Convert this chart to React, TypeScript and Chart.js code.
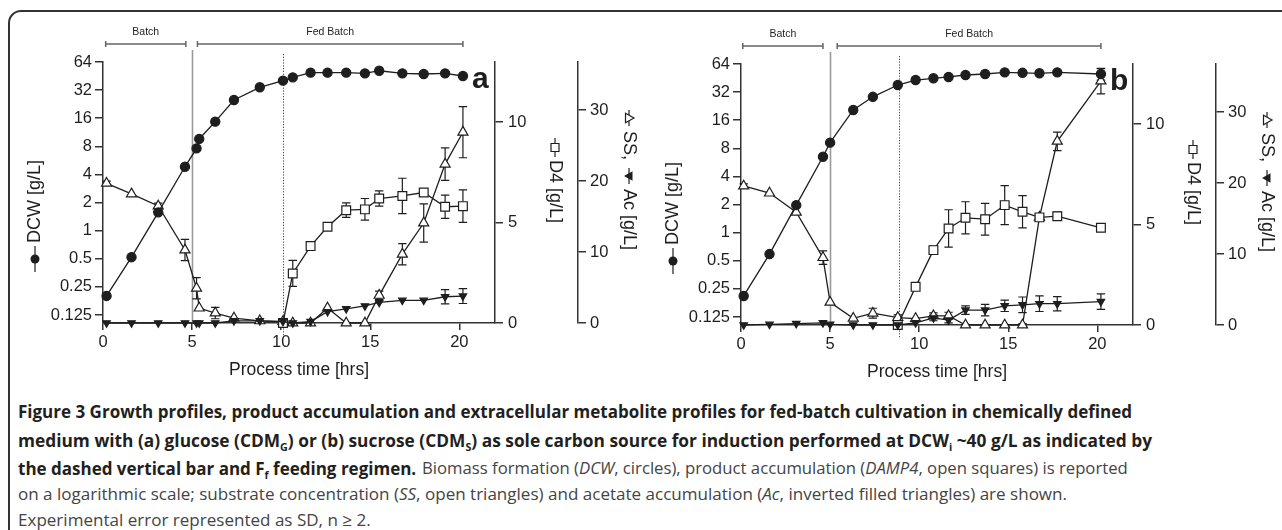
import React, { useEffect, useLayoutEffect, useRef } from 'react';
import { Chart, registerables } from 'chart.js';

Chart.register(...registerables);

// ---------------- data ----------------
const X_TICKS = [0, 5, 10, 15, 20];
const DCW_TICKS = [0.125, 0.25, 0.5, 1, 2, 4, 8, 16, 32, 64];
const D4_TICKS = [0, 5, 10];
const SS_TICKS = [0, 10, 20, 30];
const X_RANGE = [0, 22];
const DCW_RANGE = [0.1026, 64];
const D4_RANGE = [0, 13];
const SS_RANGE = [0, 36.8];
const PHASE_LABELS = ['Batch', 'Fed Batch'];
const X_TITLE = 'Process time [hrs]';

// Panel a (glucose)
const TIME_A = [0.2, 1.6, 3.1, 4.6, 5.25, 5.4, 6.3, 7.35, 8.8, 10.1, 10.65, 11.65, 12.6, 13.65, 14.7, 15.5, 16.8, 18.0, 19.2, 20.2];
const DCW_A = [0.2, 0.52, 1.57, 4.83, 7.6, 9.6, 14.7, 25.1, 34.3, 40.4, 43.8, 49.2, 49.2, 49.2, 48.4, 51.6, 48.4, 47.6, 48.4, 45.3];
const DCW_ERR_A = [0, 0, 0, 0, 0, 0, 0, 0, 0, 0, 0, 0, 0, 0, 0, 0, 0, 0, 0, 0];
const SS_A = [19.7, 18.2, 16.5, 10.3, 4.9, 2.1, 1.4, 0.7, 0.3, 0.2, 0, 0, 2.1, 0, 0, 3.9, 9.7, 14.1, 22.4, 26.9];
const SS_ERR_A = [0.3, 0, 0.4, 1.5, 1.5, 0, 0.8, 0, 0, 0, 0, 0, 0, 0, 0, 0.6, 1.5, 2.7, 2.3, 3.6];
const AC_A = [0, 0, 0, 0, 0, 0, 0, 0.3, 0.3, 0.2, 0, 0.2, 1.6, 2.0, 2.4, 2.9, 3.2, 3.2, 3.7, 3.8];
const AC_ERR_A = [0, 0, 0, 0, 0, 0, 0, 0, 0, 0, 0, 0, 0, 0, 0, 0, 0, 0, 1.0, 1.05];
const D4_TIME_A = [10.1, 10.65, 11.65, 12.6, 13.65, 14.7, 15.5, 16.8, 18.0, 19.2, 20.2];
const D4_A = [0, 2.47, 3.83, 4.79, 5.62, 5.66, 6.2, 6.33, 6.5, 5.79, 5.82];
const D4_ERR_A = [0, 0.65, 0, 0, 0.36, 0.54, 0.38, 0.88, 0.1, 0.58, 0.81];
const PHASE_SPAN_A = [[0.15, 4.65], [5.3, 20.2]];
const FEED_A = 5;
const INDUCTION_A = 10.1;

// Panel b (sucrose)
const TIME_B = [0.15, 1.6, 3.1, 4.6, 5.0, 6.3, 7.4, 8.8, 9.8, 10.8, 11.65, 12.6, 13.7, 14.8, 15.8, 16.75, 17.75, 20.2];
const DCW_B = [0.21, 0.59, 1.97, 6.5, 9.2, 20.6, 28.5, 38.1, 43.1, 45, 46.5, 48.8, 50, 52.1, 51.5, 50.9, 52.1, 50];
const DCW_ERR_B = [0, 0, 0, 0, 0, 0, 0, 0, 0, 0, 0, 0, 0, 0, 0, 0, 0, 7];
const SS_B = [19.6, 18.6, 15.9, 9.5, 3.2, 0.95, 1.66, 1.04, 0.9, 1.3, 1.3, 0, 0, 0, 0, 15.2, 25.9, 34.4];
const SS_ERR_B = [0.3, 0, 0, 0.95, 0, 0, 0.7, 0.4, 0, 0.4, 0.5, 0, 0, 0, 0.2, 0, 1.3, 1.8];
const AC_B = [0, 0.1, 0.2, 0.3, 0.1, 0, 0, 0, 0.3, 1.0, 0.7, 2.1, 2.1, 2.7, 2.85, 3.0, 3.0, 3.3];
const AC_ERR_B = [0, 0, 0, 0, 0, 0, 0, 0, 0, 0.4, 0.4, 0.6, 0.8, 0.8, 1.1, 1.1, 1.0, 1.1];
const D4_TIME_B = [8.8, 9.8, 10.8, 11.65, 12.6, 13.7, 14.8, 15.8, 16.75, 17.75, 20.2];
const D4_B = [0, 1.9, 3.73, 4.81, 5.34, 5.27, 5.97, 5.64, 5.36, 5.42, 4.84];
const D4_ERR_B = [0, 0, 0.2, 0.93, 0.8, 0.79, 0.97, 0.8, 0, 0.2, 0];
const PHASE_SPAN_B = [[0.1, 4.6], [5.4, 20.2]];
const FEED_B = 5;
const INDUCTION_B = 8.85;

// ---------------- drawing helpers ----------------
const FONT = '"Liberation Sans", Arial, Helvetica, sans-serif';
const INK = '#1e1e1e';
const AXIS = '#333';

Chart.defaults.font.family = FONT;
Chart.defaults.color = INK;

function drawMarker(ctx: CanvasRenderingContext2D, type: string, cx: number, cy: number) {
  ctx.save();
  ctx.lineWidth = 1.2;
  ctx.strokeStyle = INK;
  ctx.beginPath();
  if (type === 'circle') {
    ctx.fillStyle = INK;
    ctx.arc(cx, cy, 4.5, 0, Math.PI * 2);
    ctx.fill();
  } else if (type === 'square') {
    ctx.fillStyle = '#fff';
    ctx.rect(cx - 4, cy - 4, 8, 8);
    ctx.fill();
    ctx.stroke();
  } else if (type === 'tri') {
    ctx.fillStyle = '#fff';
    ctx.moveTo(cx, cy - 5);
    ctx.lineTo(cx + 4.8, cy + 3.5);
    ctx.lineTo(cx - 4.8, cy + 3.5);
    ctx.closePath();
    ctx.fill();
    ctx.stroke();
  } else if (type === 'itri') {
    ctx.fillStyle = INK;
    ctx.moveTo(cx, cy + 5);
    ctx.lineTo(cx + 4.8, cy - 3.5);
    ctx.lineTo(cx - 4.8, cy - 3.5);
    ctx.closePath();
    ctx.fill();
  }
  ctx.restore();
}

// items: {m: markerType, len} or {t: text}
function drawSeq(ctx: CanvasRenderingContext2D, x: number, y: number, angle: number, items: any[]) {
  ctx.save();
  ctx.translate(x, y);
  ctx.rotate(angle);
  ctx.font = `18px ${FONT}`;
  ctx.fillStyle = INK;
  ctx.strokeStyle = INK;
  ctx.lineWidth = 1.2;
  ctx.textBaseline = 'middle';
  ctx.textAlign = 'left';
  let pos = 0;
  for (const it of items) {
    if (it.m) {
      const len = it.len || 16;
      ctx.beginPath();
      ctx.moveTo(pos, 0);
      ctx.lineTo(pos + len, 0);
      ctx.stroke();
      drawMarker(ctx, it.m, pos + len / 2, 0);
      pos += len + (it.gap ?? 4);
    } else {
      ctx.fillText(it.t, pos, 0);
      pos += ctx.measureText(it.t).width + (it.gap ?? 4);
    }
  }
  ctx.restore();
}

function makeDecor(p: any) {
  return {
    id: 'decor' + p.name,
    beforeDatasetsDraw(chart: any) {
      const { ctx, chartArea: ca, scales } = chart;
      const x = scales.x;
      ctx.save();
      const xf = Math.round(x.getPixelForValue(p.feed)) + 0.5;
      ctx.strokeStyle = '#9a9a9a';
      ctx.lineWidth = 1.6;
      ctx.beginPath();
      ctx.moveTo(xf, ca.top - 12);
      ctx.lineTo(xf, ca.bottom);
      ctx.stroke();
      const xi = Math.round(x.getPixelForValue(p.induction)) + 0.5;
      ctx.strokeStyle = '#444';
      ctx.lineWidth = 1;
      ctx.setLineDash([1.2, 1.6]);
      ctx.beginPath();
      ctx.moveTo(xi, ca.top - 8);
      ctx.lineTo(xi, ca.bottom + 14);
      ctx.stroke();
      ctx.setLineDash([]);
      ctx.strokeStyle = INK;
      ctx.lineWidth = 1.2;
      chart.data.datasets.forEach((ds: any) => {
        const errs = ds.errors;
        if (!errs) return;
        const ys = scales[ds.yAxisID];
        ds.data.forEach((pt: any, j: number) => {
          const e = errs[j];
          if (!e) return;
          const px = x.getPixelForValue(pt.x);
          const yT = ys.getPixelForValue(pt.y + e);
          const yB = ys.getPixelForValue(Math.max(pt.y - e, ys.min));
          ctx.beginPath();
          ctx.moveTo(px, yT);
          ctx.lineTo(px, yB);
          ctx.moveTo(px - 4.2, yT);
          ctx.lineTo(px + 4.2, yT);
          ctx.moveTo(px - 4.2, yB);
          ctx.lineTo(px + 4.2, yB);
          ctx.stroke();
        });
      });
      ctx.restore();
    },
    afterDraw(chart: any) {
      const { ctx, chartArea: ca, scales } = chart;
      const x = scales.x;
      ctx.save();
      ctx.strokeStyle = '#666';
      ctx.lineWidth = 1.5;
      ctx.fillStyle = INK;
      ctx.font = `10.5px ${FONT}`;
      ctx.textAlign = 'center';
      ctx.textBaseline = 'middle';
      p.phases.forEach((span: number[], i: number) => {
        const x1 = x.getPixelForValue(span[0]);
        const x2 = x.getPixelForValue(span[1]);
        const y = ca.top - 18;
        ctx.beginPath();
        ctx.moveTo(x1, y);
        ctx.lineTo(x2, y);
        ctx.moveTo(x1, y - 3);
        ctx.lineTo(x1, y + 3);
        ctx.moveTo(x2, y - 3);
        ctx.lineTo(x2, y + 3);
        ctx.stroke();
        ctx.fillText(PHASE_LABELS[i], (x1 + x2) / 2, ca.top - 30);
      });
      ctx.font = `17.5px ${FONT}`;
      ctx.fillText(X_TITLE, (ca.left + ca.right) / 2, ca.bottom + 47);
      ctx.font = `bold 30px ${FONT}`;
      ctx.textAlign = 'left';
      ctx.textBaseline = 'alphabetic';
      ctx.fillText(p.name, ca.right - 23, ca.top + 26);
      ctx.restore();

      drawSeq(ctx, ca.left - 68, ca.bottom - 51, -Math.PI / 2, [
        { m: 'circle', len: 26, gap: 3 },
        { t: 'DCW [g/L]' },
      ]);
      const d4 = scales.yD4;
      drawSeq(ctx, d4.left + 60, ca.top + 76, Math.PI / 2, [
        { m: 'square', len: 19, gap: 3 },
        { t: 'D4 [g/L]' },
      ]);
      const ss = scales.ySS;
      drawSeq(ctx, ss.left + 51, ca.top + 48, Math.PI / 2, [
        { m: 'tri', len: 16, gap: 5 },
        { t: 'SS,', gap: 8 },
        { m: 'itri', len: 16, gap: 5 },
        { t: 'Ac [g/L]' },
      ]);
    },
  };
}

function buildConfig(p: any) {
  const pts = (xs: number[], ys: number[]) => xs.map((v, i) => ({ x: v, y: ys[i] }));
  const base = {
    showLine: true,
    tension: 0,
    borderColor: INK,
    borderWidth: 1.3,
    clip: false,
    pointBorderColor: INK,
    pointBorderWidth: 1.2,
    pointHoverRadius: 0,
  };
  const tickFont = { size: 16.5, family: FONT };
  const grid = (len: number) => ({
    drawOnChartArea: false,
    drawTicks: true,
    tickLength: len,
    color: AXIS,
    lineWidth: 1.5,
  });
  const border = { display: true, color: AXIS, width: 1.5 };
  const setTicks = (vals: number[]) => (s: any) => {
    s.ticks = vals.map((v) => ({ value: v }));
  };
  return {
    type: 'line',
    data: {
      datasets: [
        { ...base, label: 'DCW', yAxisID: 'yDCW', data: pts(p.time, p.dcw), errors: p.dcwErr, pointStyle: 'circle', pointRadius: 4.6, pointBackgroundColor: INK },
        { ...base, label: 'Ac', yAxisID: 'ySS', data: pts(p.time, p.ac), errors: p.acErr, pointStyle: 'triangle', pointRotation: 180, pointRadius: 4.3, pointBackgroundColor: INK },
        { ...base, label: 'D4', yAxisID: 'yD4', data: pts(p.d4Time, p.d4), errors: p.d4Err, pointStyle: 'rect', pointRadius: 6.2, pointBackgroundColor: '#fff' },
        { ...base, label: 'SS', yAxisID: 'ySS', data: pts(p.time, p.ss), errors: p.ssErr, pointStyle: 'triangle', pointRadius: 5.8, pointBackgroundColor: '#fff' },
      ],
    },
    options: {
      animation: false,
      responsive: false,
      devicePixelRatio: 1,
      events: [],
      layout: { padding: { top: 50, bottom: 29, left: 0, right: 0 } },
      plugins: { legend: { display: false }, tooltip: { enabled: false }, title: { display: false } },
      scales: {
        x: {
          type: 'linear', min: X_RANGE[0], max: X_RANGE[1], bounds: 'data',
          afterBuildTicks: setTicks(X_TICKS),
          afterFit: (s: any) => { s.height = 30; },
          grid: grid(7), border,
          ticks: { font: tickFont, color: INK, padding: 3, autoSkip: false, maxRotation: 0, callback: (v: any) => String(v) },
        },
        yDCW: {
          type: 'logarithmic', position: 'left', min: DCW_RANGE[0], max: DCW_RANGE[1], bounds: 'data',
          afterBuildTicks: setTicks(DCW_TICKS),
          afterFit: (s: any) => { s.width = 91; },
          grid: grid(8), border,
          ticks: { font: tickFont, color: INK, padding: 3, autoSkip: false, callback: (v: any) => String(v) },
        },
        yD4: {
          type: 'linear', position: 'right', weight: 0, min: D4_RANGE[0], max: D4_RANGE[1], bounds: 'data',
          afterBuildTicks: setTicks(D4_TICKS),
          afterFit: (s: any) => { s.width = 83; },
          grid: grid(8), border,
          ticks: { font: tickFont, color: INK, padding: 5, autoSkip: false, callback: (v: any) => String(v) },
        },
        ySS: {
          type: 'linear', position: 'right', weight: 1, min: SS_RANGE[0], max: SS_RANGE[1], bounds: 'data',
          afterBuildTicks: setTicks(SS_TICKS),
          afterFit: (s: any) => { s.width = 64; },
          grid: grid(8), border,
          ticks: { font: tickFont, color: INK, padding: 4, autoSkip: false, callback: (v: any) => String(v) },
        },
      },
    },
    plugins: [makeDecor(p)],
  };
}

const PANEL_A = {
  name: 'a', time: TIME_A, dcw: DCW_A, dcwErr: DCW_ERR_A, ss: SS_A, ssErr: SS_ERR_A, ac: AC_A, acErr: AC_ERR_A,
  d4Time: D4_TIME_A, d4: D4_A, d4Err: D4_ERR_A, phases: PHASE_SPAN_A, feed: FEED_A, induction: INDUCTION_A,
};
const PANEL_B = {
  name: 'b', time: TIME_B, dcw: DCW_B, dcwErr: DCW_ERR_B, ss: SS_B, ssErr: SS_ERR_B, ac: AC_B, acErr: AC_ERR_B,
  d4Time: D4_TIME_B, d4: D4_B, d4Err: D4_ERR_B, phases: PHASE_SPAN_B, feed: FEED_B, induction: INDUCTION_B,
};

function Panel({ data, left, top }: { data: any; left: number; top: number }) {
  const ref = useRef<HTMLCanvasElement>(null);
  useEffect(() => {
    const chart = new Chart(ref.current as HTMLCanvasElement, buildConfig(data) as any);
    return () => chart.destroy();
  }, [data]);
  return (
    <canvas
      ref={ref}
      width={630}
      height={370}
      style={{ position: 'absolute', left, top, width: 630, height: 370 }}
    />
  );
}

// ---------------- caption ----------------
const CAP_FONT = '"Open Sans", "Noto Sans", sans-serif';
const BOLD: React.CSSProperties = { fontFamily: CAP_FONT, fontWeight: 700, fontSize: 17.5, color: '#231f20' };
const REG: React.CSSProperties = { fontFamily: CAP_FONT, fontWeight: 400, fontSize: 17, color: '#444' };

function Sub({ children }: { children: React.ReactNode }) {
  return <span style={{ fontSize: '0.62em', position: 'relative', top: '0.32em' }}>{children}</span>;
}

const CAP_LEFT = 18;

// kind: b = bold, r = regular; right: fitted right edge (else use group scale);
// after: index of the line segment this one follows on the same row.
const CAP_SPECS = [
  { kind: 'b', base: 418, right: 1132 },
  { kind: 'b', base: 447, right: 1152 },
  { kind: 'b', base: 475 },
  { kind: 'r', base: 475, after: 2, right: 1128 },
  { kind: 'r', base: 501, right: 1067 },
  { kind: 'r', base: 527 },
];

function Caption() {
  const refs = useRef<(HTMLDivElement | null)[]>([]);
  useLayoutEffect(() => {
    const layout = () => {
      const els = refs.current;
      if (els.length < CAP_SPECS.length || els.some((e) => !e)) return;
      els.forEach((e) => { (e as HTMLDivElement).style.transform = 'none'; });
      const w = els.map((e) => (e as HTMLDivElement).getBoundingClientRect().width);
      const sB = (1132 - CAP_LEFT) / w[0];
      const sR = (1067 - CAP_LEFT) / w[4];
      const lefts: number[] = [];
      const scales: number[] = [];
      CAP_SPECS.forEach((sp: any, i) => {
        let left = CAP_LEFT;
        if (sp.after !== undefined) left = lefts[sp.after] + w[sp.after] * scales[sp.after] + 6;
        let s = sp.kind === 'b' ? sB : sR;
        if (sp.right !== undefined) s = (sp.right - left) / w[i];
        lefts[i] = left;
        scales[i] = s;
        const el = els[i] as HTMLDivElement;
        el.style.left = left + 'px';
        el.style.transform = `scaleX(${s})`;
      });
    };
    layout();
    if ((document as any).fonts && (document as any).fonts.ready) (document as any).fonts.ready.then(layout);
  }, []);
  const lineStyle = (i: number): React.CSSProperties => ({
    position: 'absolute', left: CAP_LEFT, top: CAP_SPECS[i].base - 16.7, whiteSpace: 'nowrap', lineHeight: '20px',
    transformOrigin: '0 0', ...(CAP_SPECS[i].kind === 'b' ? BOLD : REG),
  });
  const setRef = (i: number) => (el: HTMLDivElement | null) => { refs.current[i] = el; };
  return (
    <>
      <div ref={setRef(0)} style={lineStyle(0)}>
        Figure 3 Growth profiles, product accumulation and extracellular metabolite profiles for fed-batch cultivation in chemically defined
      </div>
      <div ref={setRef(1)} style={lineStyle(1)}>
        medium with (a) glucose (CDM<Sub>G</Sub>) or (b) sucrose (CDM<Sub>S</Sub>) as sole carbon source for induction performed at DCW<Sub>i</Sub> ~40 g/L as indicated by
      </div>
      <div ref={setRef(2)} style={lineStyle(2)}>
        the dashed vertical bar and F<Sub>f</Sub> feeding regimen.
      </div>
      <div ref={setRef(3)} style={lineStyle(3)}>
        Biomass formation (<i>DCW</i>, circles), product accumulation (<i>DAMP4</i>, open squares) is reported
      </div>
      <div ref={setRef(4)} style={lineStyle(4)}>
        on a logarithmic scale; substrate concentration (<i>SS</i>, open triangles) and acetate accumulation (<i>Ac</i>, inverted filled triangles) are shown.
      </div>
      <div ref={setRef(5)} style={lineStyle(5)}>
        Experimental error represented as SD, n ≥ 2.
      </div>
    </>
  );
}

export default function App() {
  return (
    <div style={{ position: 'absolute', left: 0, top: 0, width: 1282, height: 530, overflow: 'hidden', background: '#fff' }}>
      <div
        style={{
          position: 'absolute', left: 8, top: 10, width: 1320, height: 600,
          border: '2px solid #333', borderTopLeftRadius: 13, boxSizing: 'border-box',
        }}
      />
      <Panel data={PANEL_A} left={12} top={12} />
      <Panel data={PANEL_B} left={650} top={14} />
      <Caption />
    </div>
  );
}
